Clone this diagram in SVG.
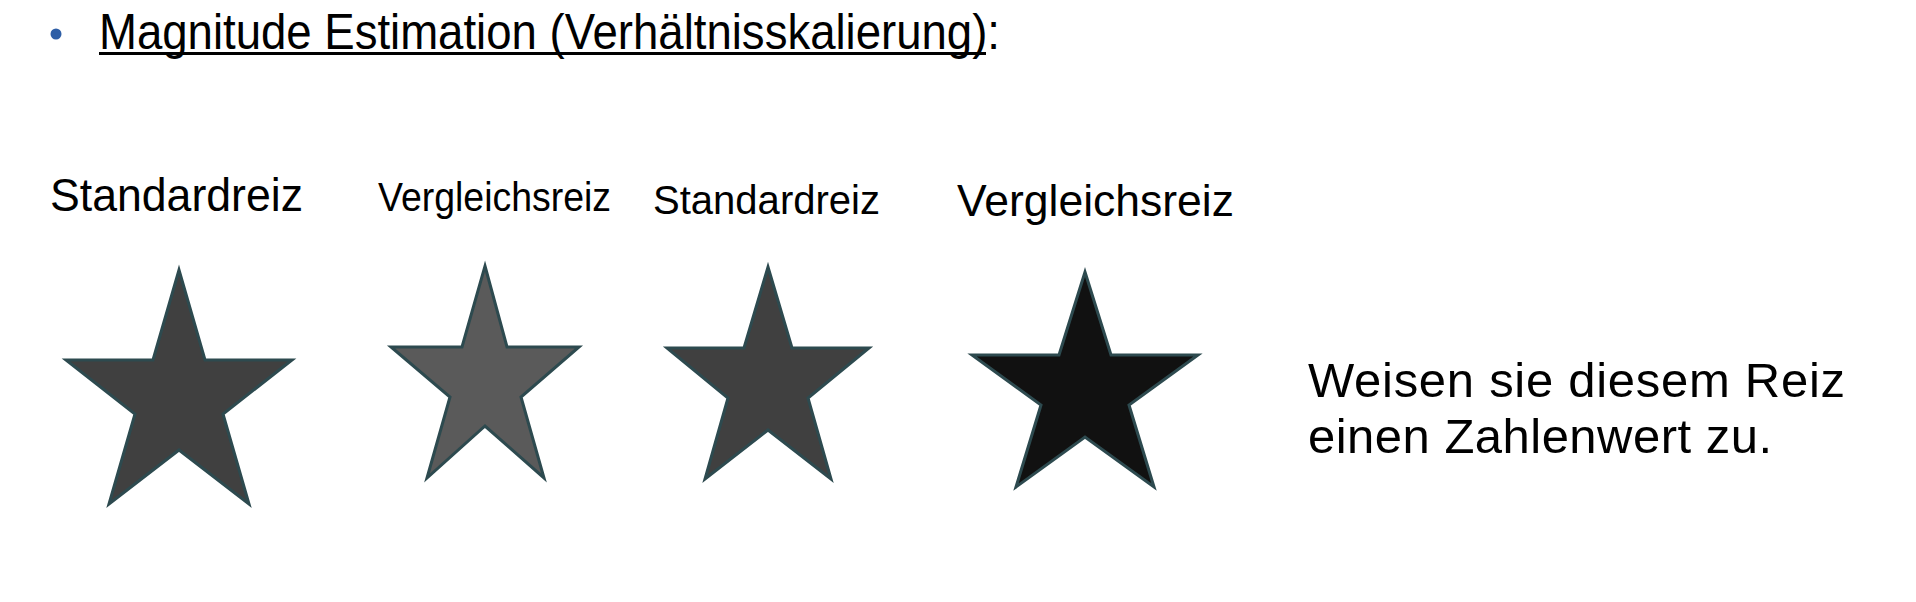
<svg xmlns="http://www.w3.org/2000/svg" width="1916" height="602" viewBox="0 0 1916 602">
<style>
text{font-family:"Liberation Sans",Arial,sans-serif;fill:#000}
.star{stroke:#2d4a4f;stroke-width:3;stroke-linejoin:miter}
</style>
<rect width="1916" height="602" fill="#fff"/>
<g id="title">
<circle cx="56" cy="34" r="5.5" fill="#2e5ea6"/>
<text x="99" y="49" font-size="50" textLength="901" lengthAdjust="spacingAndGlyphs">Magnitude Estimation (Verhältnisskalierung):</text>
<line x1="99" y1="53.5" x2="986" y2="53.5" stroke="#000" stroke-width="3"/>
</g>
<g id="star1">
<text x="50" y="211" font-size="46" textLength="253" lengthAdjust="spacingAndGlyphs">Standardreiz</text>
<polygon class="star" fill="#404040" points="179,270 205,360 292,360 223,414 249,504 179,450 109,504 135,414 66,360 153,360"/>
</g>
<g id="star2">
<text x="378" y="211" font-size="41" textLength="233" lengthAdjust="spacingAndGlyphs">Vergleichsreiz</text>
<polygon class="star" fill="#5a5a5a" points="485,266 507,347 579,347 521,397 544,478 485,426 427,478 450,397 391,347 462,347"/>
</g>
<g id="star3">
<text x="653" y="214" font-size="40" textLength="227" lengthAdjust="spacingAndGlyphs">Standardreiz</text>
<polygon class="star" fill="#404040" points="768,267 792,348 869,348 808,398 831,479 768,430 705,479 728,398 667,348 744,348"/>
</g>
<g id="star4">
<text x="957" y="216" font-size="44" textLength="277" lengthAdjust="spacingAndGlyphs">Vergleichsreiz</text>
<polygon class="star" fill="#111111" points="1085,272 1111,355 1198,355 1129,405 1154,487 1085,437 1016,487 1041,405 972,355 1059,355"/>
</g>
<g id="instruction">
<text x="1308" y="397" font-size="49" textLength="537" lengthAdjust="spacing">Weisen sie diesem Reiz</text>
<text x="1308" y="453" font-size="49" textLength="464" lengthAdjust="spacing">einen Zahlenwert zu.</text>
</g>
<g id="connectors"/>
</svg>
